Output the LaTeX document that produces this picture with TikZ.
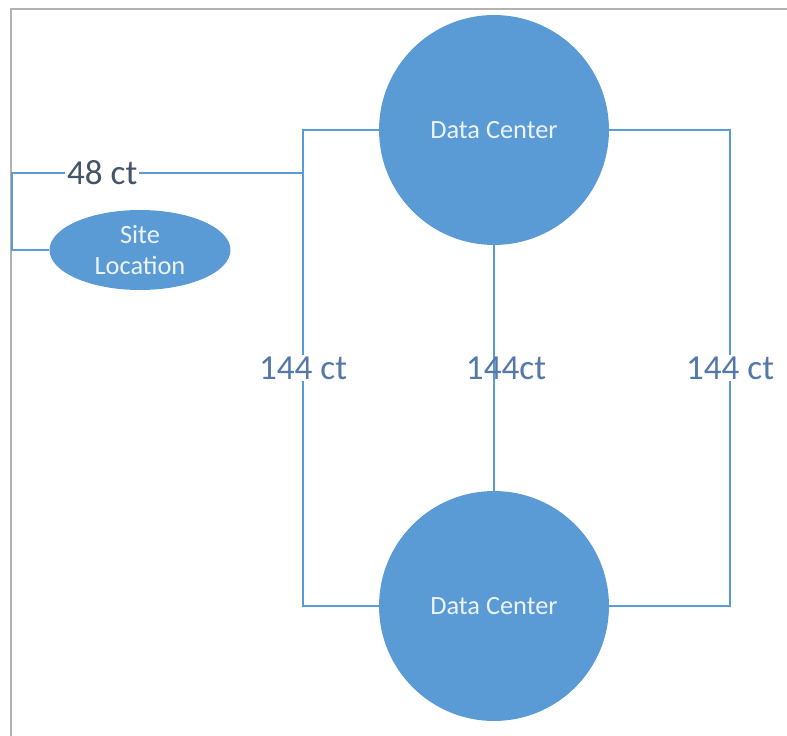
\documentclass[tikz,border=0pt]{standalone}
\usepackage{fontspec}
\setmainfont{Carlito}
\usetikzlibrary{shapes.geometric}
\definecolor{officeblue}{RGB}{91,155,213}
\definecolor{nodetext}{RGB}{236,243,250}
\definecolor{linktext}{RGB}{84,120,168}
\definecolor{sitetext}{RGB}{68,84,106}
\tikzset{
	datacenter/.style={circle, fill=officeblue, inner sep=0pt, minimum size=4.6cm, text=nodetext, font=\fontsize{15}{17}\selectfont},
	site/.style={ellipse, fill=officeblue, inner sep=0pt, minimum width=3.62cm, minimum height=1.6cm, align=center, text=nodetext, font=\fontsize{15}{18}\selectfont},
	link/.style={line width=1.3pt, draw=officeblue},
	count/.style={fill=white, inner sep=1pt, text=linktext, font=\fontsize{20}{22}\selectfont},
}

\begin{document}
\begin{tikzpicture}[x=0.02cm, y=-0.02cm]
			\useasboundingbox (0,0) rectangle (787,736);
			% page edge
			\draw[black!30, line width=1.2pt] (11,736) -- (11,9) -- (787,9);
			
			\node (dc1) [datacenter] at (494,130) {Data Center};
			\node (dc2) [datacenter] at (494,606) {Data Center};
			\node (loc) [site] at (140,250) {Site\\Location};
			
			\coordinate (lt) at (303,130);
			\coordinate (lb) at (303,606);
			\coordinate (rt) at (730,130);
			\coordinate (rb) at (730,606);
			\coordinate (jn) at (303,173);
			\coordinate (lc) at (12,173);
			
			\begin{scope}[link]
				\draw (dc1) -- (lt) -- node[count] {144 ct} (lb) -- (dc2);
				\draw (dc1) -- (rt) -- node[count] {144 ct} (rb) -- (dc2);
				\draw (dc1) -- node[count, fill=none, xshift=0.24cm] {144ct} (dc2);
				\draw (jn) -- node[count, pos=0.69, text=sitetext] {48 ct} (lc) |- (loc);
			\end{scope}
		\end{tikzpicture}
\end{document}
